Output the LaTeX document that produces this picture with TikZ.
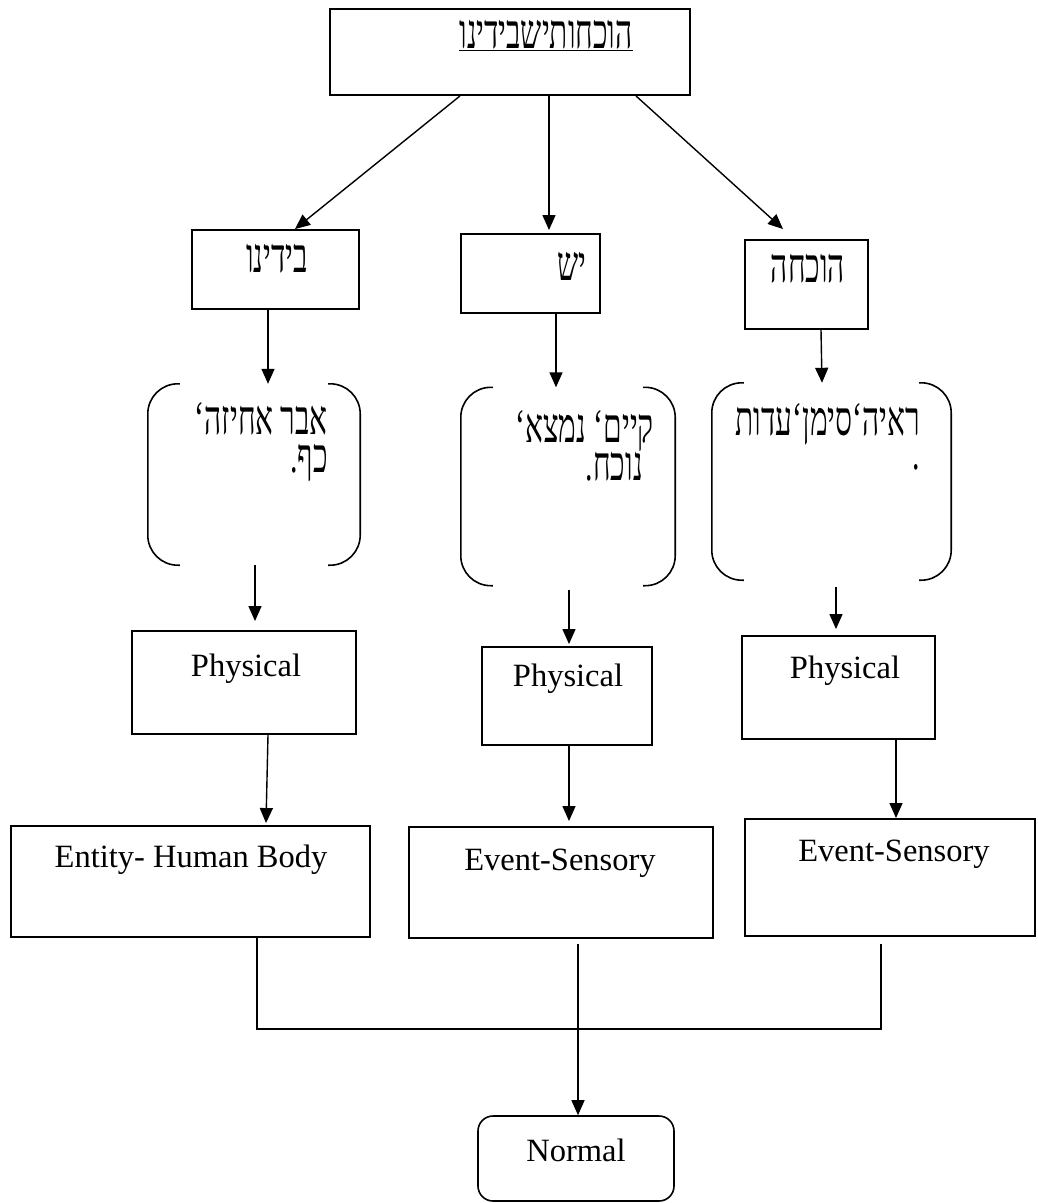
\documentclass[tikz,border=0pt]{standalone}
\usepackage{fontspec}
\setmainfont{Liberation Serif}
\newfontfamily\heb[Script=Hebrew,Scale=1.55,FakeStretch=0.62]{Liberation Serif}
\TeXXeTstate=1
\usetikzlibrary{arrows.meta}
% right-to-left mark, keeps trailing punctuation with the Hebrew word
\newcommand{\rlmark}{^^^^200f}
\begin{document}
\begin{tikzpicture}[x=1pt,y=-1pt,
  box/.style={draw,line width=1.9pt,inner sep=0pt},
  capbox/.style={draw,line width=1.6pt,rounded corners=15pt,inner sep=0pt},
  span/.style={draw=none,inner sep=0pt},
  arr/.style={line width=1.4pt,-{Triangle[length=15pt,width=13pt]}},
  link/.style={line width=1.4pt},
  curl/.style={line width=1.6pt,rounded corners=30pt},
  txt/.style={inner sep=0pt,font=\fontsize{32.5}{38}\selectfont},
  htxt/.style={inner sep=0pt,font=\fontsize{31}{34.5}\selectfont\heb}]
\useasboundingbox (0,0) rectangle (1037,1203);

% title box
\node[box,minimum width=360pt,minimum height=86pt] (top) at (510,52) {};
\node[htxt,anchor=base] (toptxt) at (546,48) {\underline{\beginR הוכחותישבידינו\endR}};

% first level boxes
\node[box,minimum width=167pt,minimum height=79pt] (bidinu) at (275.5,269.5) {};
\node[htxt,anchor=base] (bidinutxt) at (277,272) {\beginR בידינו\endR};
\node[box,minimum width=139pt,minimum height=79pt] (yesh) at (530.5,273.5) {};
\node[htxt,anchor=base] (yeshtxt) at (572,280) {\beginR יש\endR};
\node[box,minimum width=123pt,minimum height=89pt] (hoc) at (806.5,284.5) {};
\node[htxt,anchor=base] (hoctxt) at (808,282) {\beginR הוכחה\endR};

% bracketed word lists
\node[span,minimum width=212pt,minimum height=181pt] (br1) at (254,474.5) {};
\node[span,minimum width=214pt,minimum height=198pt] (br2) at (568,486.5) {};
\node[span,minimum width=239pt,minimum height=197pt] (br3) at (831.5,481.5) {};
\foreach \b in {br1,br2,br3}{
  \draw[curl] ([xshift=32pt]\b.north west) -- (\b.north west) -- (\b.south west) -- ([xshift=32pt]\b.south west);
  \draw[curl] ([xshift=-32pt]\b.north east) -- (\b.north east) -- (\b.south east) -- ([xshift=-32pt]\b.south east);
}
\node[htxt,anchor=base east] (list1) at (328,434) {%
  \begin{tabular}[t]{@{}r@{}}
  \beginR אבר אחיזה‘\rlmark\endR\\
  \beginR כף.\rlmark\endR
  \end{tabular}};
\node[htxt,anchor=base east] (list2) at (654,442) {%
  \begin{tabular}[t]{@{}r@{}}
  \beginR קיים‘\rlmark{} נמצא‘\rlmark\endR\\
  \beginR נוכח.\rlmark\endR\hspace*{11pt}
  \end{tabular}};
\node[htxt,anchor=base east] (list3) at (920,435) {%
  \begin{tabular}[t]{@{}r@{}}
  \beginR ראיה‘סימן‘עדות\endR\\
  .
  \end{tabular}};

% physical boxes
\node[box,minimum width=224pt,minimum height=103pt] (ph1) at (244,682.5) {};
\node[txt,anchor=base] (ph1txt) at (246,676) {Physical};
\node[box,minimum width=170pt,minimum height=98pt] (ph2) at (567,696) {};
\node[txt,anchor=base] (ph2txt) at (568,686) {Physical};
\node[box,minimum width=193pt,minimum height=103pt] (ph3) at (838.5,687.5) {};
\node[txt,anchor=base] (ph3txt) at (845,678) {Physical};

% category boxes
\node[box,minimum width=359pt,minimum height=111pt] (ent) at (190.5,881.5) {};
\node[txt,anchor=base] (enttxt) at (191,867) {Entity- Human Body};
\node[box,minimum width=304pt,minimum height=111pt] (ev2) at (561,882.5) {};
\node[txt,anchor=base] (ev2txt) at (560,870) {Event-Sensory};
\node[box,minimum width=290pt,minimum height=117pt] (ev3) at (890,877.5) {};
\node[txt,anchor=base] (ev3txt) at (894,861) {Event-Sensory};

% final box
\node[capbox,minimum width=196pt,minimum height=85pt] (norm) at (576,1158.5) {};
\node[txt,anchor=base] (normtxt) at (576,1161) {Normal};

% connectors
\draw[arr] ([xshift=-50pt]top.south) -- ([xshift=19.5pt]bidinu.north);
\draw[arr] ([xshift=39pt]top.south) -- ([xshift=18.5pt,yshift=3pt]yesh.north);
\draw[arr] ([xshift=126pt]top.south) -- ([xshift=-23.5pt,yshift=10pt]hoc.north);

\draw[arr] ([xshift=-7.5pt]bidinu.south) -- ([xshift=14pt]br1.north);
\draw[arr] ([xshift=25.5pt]yesh.south) -- ([xshift=-12pt]br2.north);
\draw[arr] ([xshift=14.5pt]hoc.south) -- ([xshift=-9.5pt]br3.north);

\draw[arr] ([xshift=1pt]br1.south) -- ([xshift=11pt,yshift=9pt]ph1.north);
\draw[arr] ([xshift=1pt,yshift=-4pt]br2.south) -- ([xshift=2pt,yshift=2pt]ph2.north);
\draw[arr] ([xshift=4.5pt,yshift=-7pt]br3.south) -- ([xshift=-2.5pt,yshift=6pt]ph3.north);

\draw[arr] ([xshift=24pt]ph1.south) -- ([xshift=75.5pt,yshift=2pt]ent.north);
\draw[arr] ([xshift=2pt]ph2.south) -- ([xshift=8pt,yshift=5pt]ev2.north);
\draw[arr] ([xshift=57.5pt]ph3.south) -- ([xshift=6pt]ev3.north);

\coordinate (joinL) at (257,1029);
\coordinate (joinR) at (881,1029);
\draw[link] ([xshift=66.5pt]ent.south) -- (joinL) -- (joinR) -- ([xshift=-9pt,yshift=-7pt]ev3.south);
\draw[arr] ([xshift=17pt,yshift=-5pt]ev2.south) -- ([xshift=2pt]norm.north);
\end{tikzpicture}
\end{document}
